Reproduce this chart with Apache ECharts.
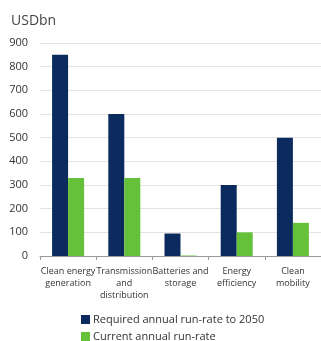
<!DOCTYPE html>
<html>
<head>
<meta charset="utf-8">
<script src="https://cdn.jsdelivr.net/npm/echarts@6/dist/echarts.min.js"></script>
<style>
  html, body { margin: 0; padding: 0; background: #fff; }
  #chart { width: 321px; height: 341px; }
</style>
</head>
<body>
<div id="chart"></div>
<script>
  // 数据
  var categories = ['Clean energy\ngeneration', 'Transmission\nand\ndistribution', 'Batteries and\nstorage', 'Energy\nefficiency', 'Clean\nmobility'];
  var required = [850, 600, 95, 300, 500];
  var current = [330, 330, 2, 100, 140];
  var seriesNames = ['Required annual run-rate to 2050', 'Current annual run-rate'];

  var legendStyle = {
    left: 76,
    itemWidth: 9,
    itemHeight: 9,
    icon: 'rect',
    textStyle: { fontSize: 11, color: '#333', padding: [0, 0, 0, -2] }
  };

  var myChart = echarts.init(document.getElementById('chart'));
  myChart.setOption({
    animation: false,
    textStyle: { fontFamily: 'Open Sans' },
    title: {
      text: 'USDbn',
      left: 6,
      top: 9,
      textStyle: { fontSize: 14, fontWeight: 'normal', color: '#444' }
    },
    legend: [
      Object.assign({ top: 309, data: [seriesNames[0]] }, legendStyle),
      Object.assign({ top: 326, data: [seriesNames[1]] }, legendStyle)
    ],
    grid: {
      left: 40,
      top: 43,
      width: 284,
      height: 213
    },
    xAxis: {
      type: 'category',
      data: categories,
      axisLine: { lineStyle: { color: '#999' } },
      axisTick: { show: true, length: 4, lineStyle: { color: '#999' } },
      axisLabel: { fontSize: 9, color: '#333', lineHeight: 12, interval: 0, margin: 9 }
    },
    yAxis: {
      type: 'value',
      min: 0,
      max: 900,
      interval: 100,
      axisLine: { show: false },
      axisTick: { show: false },
      axisLabel: { fontSize: 11, color: '#333', margin: 12 },
      splitLine: { lineStyle: { color: '#e4e4e4' } }
    },
    series: [
      {
        name: seriesNames[0],
        type: 'bar',
        data: required,
        barWidth: 16,
        barGap: '0%',
        itemStyle: { color: '#0b2a5e' }
      },
      {
        name: seriesNames[1],
        type: 'bar',
        data: current,
        barWidth: 16,
        itemStyle: { color: '#66c13a' }
      }
    ]
  });
</script>
</body>
</html>
